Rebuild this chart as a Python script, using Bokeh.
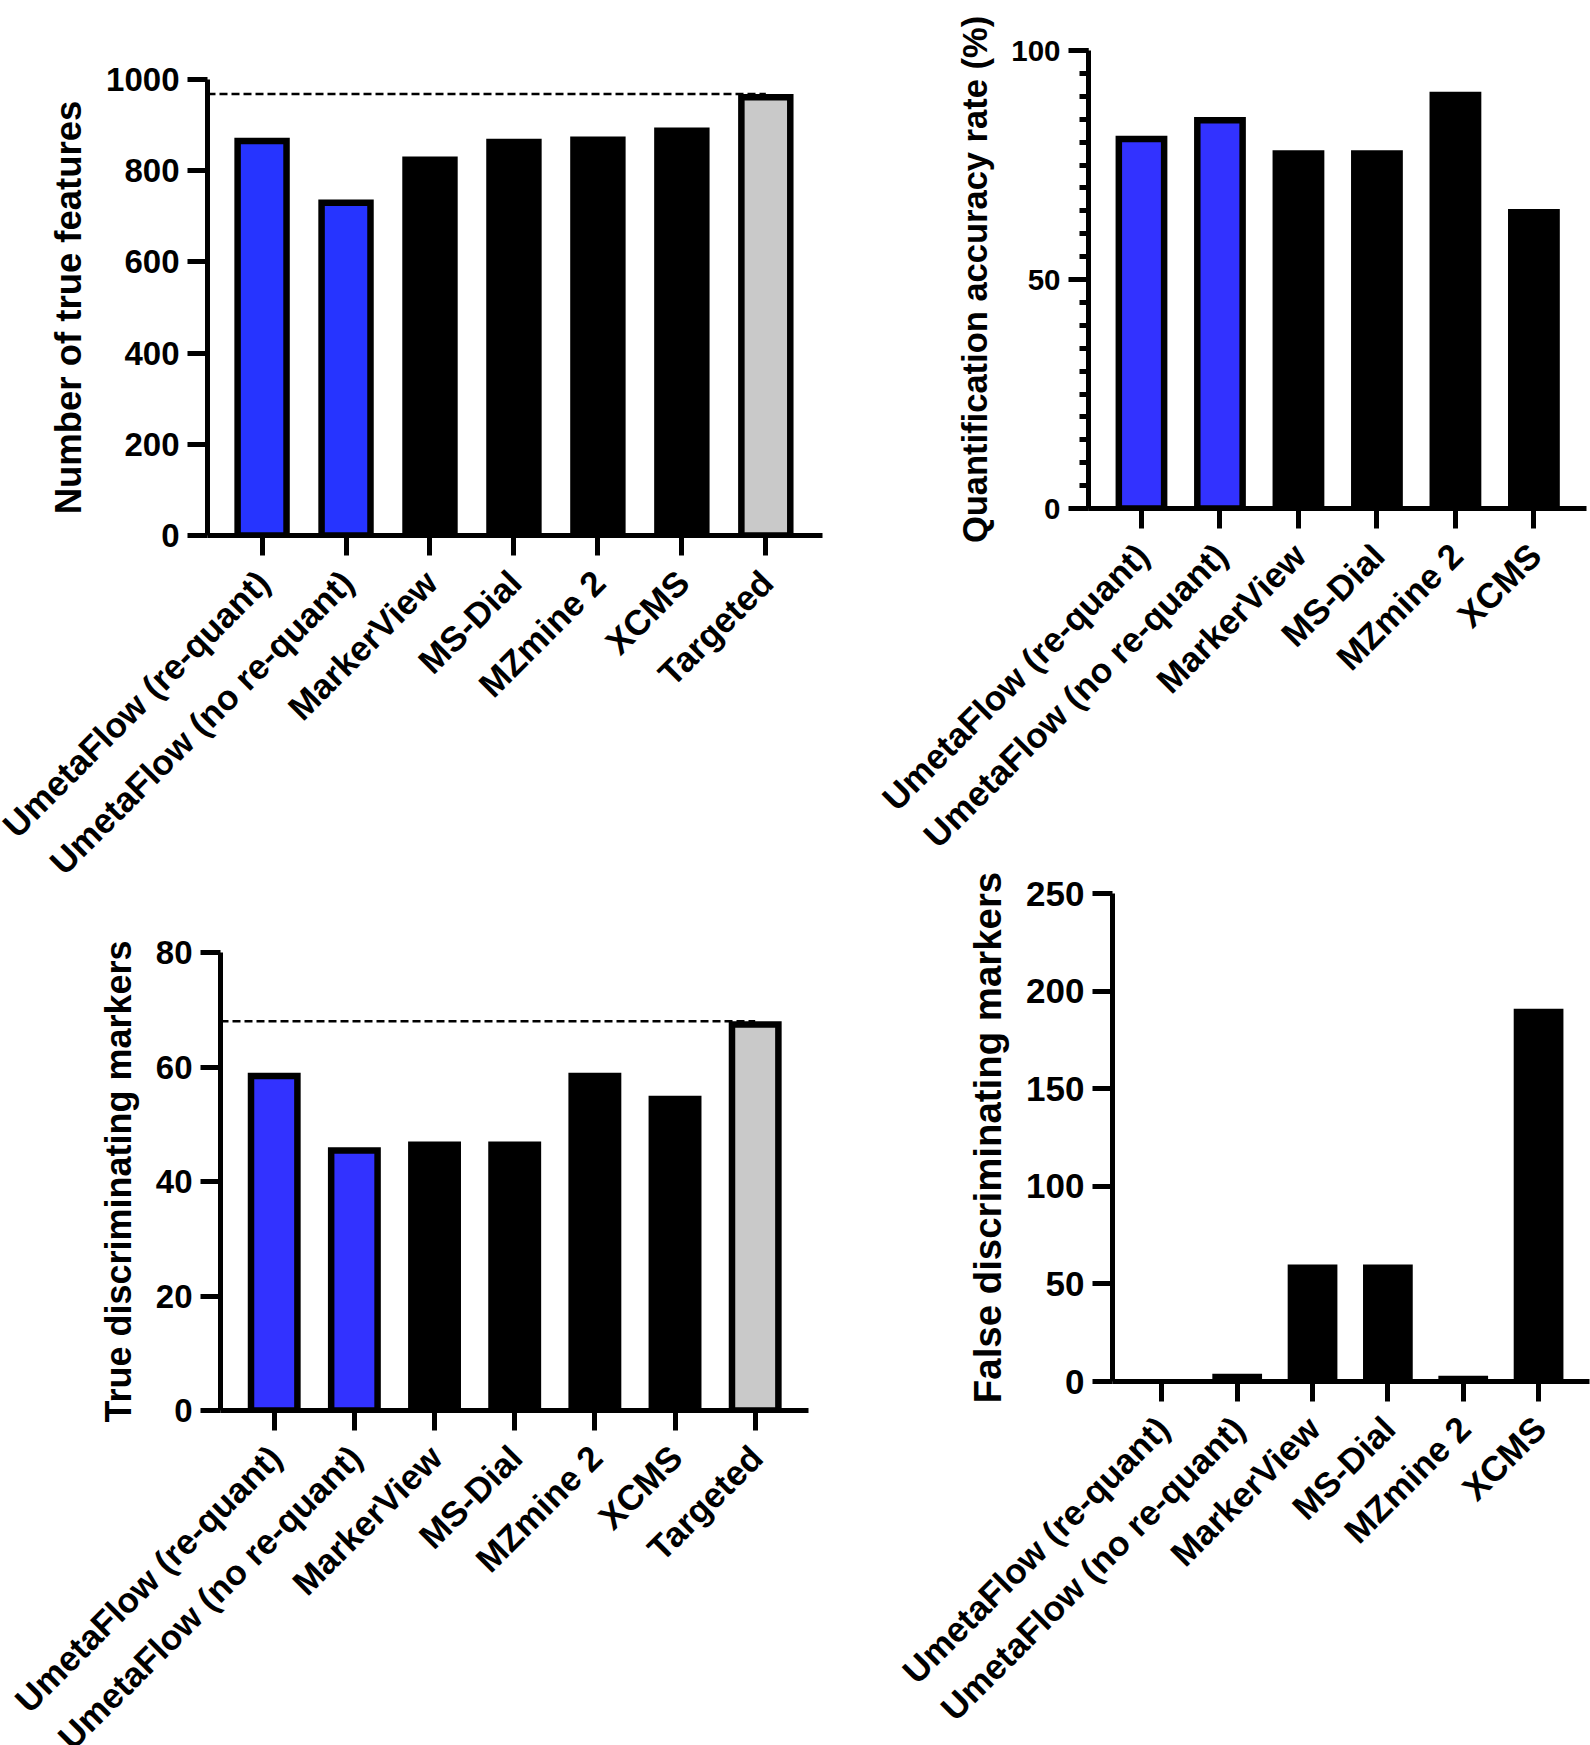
from bokeh.plotting import figure
from bokeh.layouts import row, column
from bokeh.models import Range1d, FixedTicker
from bokeh.core.properties import value
from bokeh.embed import file_html
from bokeh.resources import INLINE

# ---------------- data ----------------
tools_all = ["UmetaFlow (re-quant)", "UmetaFlow (no re-quant)", "MarkerView",
             "MS-Dial", "MZmine 2", "XCMS", "Targeted"]
tools_no_targeted = tools_all[:6]

true_features = [872, 737, 831, 870, 875, 895, 968]
quant_accuracy = [81.4, 85.5, 78.2, 78.2, 91.0, 65.4]
true_markers = [59, 46, 47, 47, 59, 55, 68]
false_markers = [0, 4, 60, 60, 3, 191]

y1_ticks = [0, 200, 400, 600, 800, 1000]
y2_ticks = [0, 50, 100]
y2_minor = [0, 5, 10, 15, 20, 25, 30, 35, 40, 45, 50, 55, 60, 65, 70, 75, 80, 85, 90, 95, 100]
y3_ticks = [0, 20, 40, 60, 80]
y4_ticks = [0, 50, 100, 150, 200, 250]

# ---------------- style ----------------
FONT = "Liberation Sans"
BLUE1 = "#2634ff"
BLUE2 = "#3232ff"
GREY = "#c9c9c9"
BLACK = "#000000"
BORDER = 6.5
CAT_FS = "35px"
CAT_ANGLE = 0.785398  # 45 degrees
CAT_DX = 1            # px right of tick for the label end
CAT_DY = 41           # px below the x axis for the label end


def make_panel(labels, values, colors, bordered, ymax, yticks, title,
               width, bl, br, bt, frame_h, axis_bb, label_h, tick_fs, title_fs,
               minor=None, ref_line=None, x_lo=-0.66, x_hi=0.67):
    n = len(labels)
    x0, x1 = x_lo, n - 1 + x_hi
    height = bt + frame_h + axis_bb
    p = figure(width=width, height=height, output_backend="svg",
               toolbar_location=None, x_range=Range1d(x0, x1),
               y_range=Range1d(0, ymax),
               min_border_left=bl, min_border_right=br,
               min_border_top=bt, min_border_bottom=axis_bb)
    if "frame_align" in p.properties():
        p.frame_align = False
    p.outline_line_color = None
    p.xgrid.visible = False
    p.ygrid.visible = False

    frame_w = width - bl - br
    px_x = frame_w / (x1 - x0)
    px_y = frame_h / ymax
    bar_w = 0.66

    xs = list(range(n))
    plain_x = [x for x, b in zip(xs, bordered) if not b]
    plain_v = [v for v, b in zip(values, bordered) if not b]
    plain_c = [c for c, b in zip(colors, bordered) if not b]
    if plain_x:
        p.vbar(x=plain_x, top=plain_v, bottom=0, width=bar_w,
               fill_color=plain_c, line_color=None)
    bx = [x for x, b in zip(xs, bordered) if b]
    bv = [v - (BORDER / 2) / px_y for v, b in zip(values, bordered) if b]
    bc = [c for c, b in zip(colors, bordered) if b]
    if bx:
        p.vbar(x=bx, top=bv, bottom=0, width=bar_w - BORDER / px_x,
               fill_color=bc, line_color=BLACK, line_width=BORDER,
               line_join="miter")

    if ref_line is not None:
        p.segment(x0=[x0], y0=[ref_line], x1=[n - 1], y1=[ref_line],
                  line_color=BLACK, line_width=2.5, line_dash="8 4")

    # y axis
    ya = p.yaxis[0]
    ya.ticker = FixedTicker(ticks=yticks, minor_ticks=minor if minor else [])
    ya.axis_line_width = 5
    ya.major_tick_line_width = 5
    ya.major_tick_out = 20
    ya.major_tick_in = 0
    if minor:
        ya.minor_tick_line_width = 5
        ya.minor_tick_out = 9
        ya.minor_tick_in = 0
    else:
        ya.minor_tick_line_color = None
    ya.major_label_text_font = FONT
    ya.major_label_text_font_style = "bold"
    ya.major_label_text_font_size = f"{tick_fs}px"
    ya.major_label_text_color = BLACK
    ya.major_label_standoff = 8
    ya.axis_label = title
    ya.axis_label_text_font = FONT
    ya.axis_label_text_font_style = "bold"
    ya.axis_label_text_font_size = f"{title_fs}px"
    ya.axis_label_text_color = BLACK
    ya.axis_label_standoff = 14

    # x axis: ticks only
    xa = p.xaxis[0]
    xa.ticker = FixedTicker(ticks=xs, minor_ticks=[])
    xa.major_label_overrides = {i: "" for i in xs}
    xa.major_label_text_font_size = "0px"
    xa.major_label_standoff = 0
    xa.axis_line_width = 5
    xa.major_tick_line_width = 5
    xa.major_tick_out = 20
    xa.major_tick_in = 0
    xa.minor_tick_line_color = None

    # strip below the chart carrying the rotated category names,
    # sharing the chart's horizontal data->pixel mapping
    lx0 = x0 - bl / px_x
    lx1 = x0 + (width - bl) / px_x
    q = figure(width=width, height=label_h, output_backend="svg",
               toolbar_location=None, x_range=Range1d(lx0, lx1),
               y_range=Range1d(-label_h, 0),
               min_border_left=0, min_border_right=0,
               min_border_top=0, min_border_bottom=0,
               x_axis_location=None, y_axis_location=None)
    if "frame_align" in q.properties():
        q.frame_align = False
    q.outline_line_color = None
    q.xgrid.visible = False
    q.ygrid.visible = False
    q.text(x=xs, y=[-(CAT_DY - axis_bb)] * n, text=labels,
           angle=CAT_ANGLE, text_align="right", text_baseline="middle",
           x_offset=CAT_DX, text_font=value(FONT), text_font_style="bold",
           text_font_size=value(CAT_FS), text_color=BLACK)
    return column(p, q)


c1 = [BLUE1, BLUE1, BLACK, BLACK, BLACK, BLACK, GREY]
b1 = [True, True, False, False, False, False, True]
p1 = make_panel(tools_all, true_features, c1, b1, 1000, y1_ticks,
                "Number of true features",
                870, 207, 48, 79, 456, 22, 343, 33, 36.5,
                ref_line=true_features[-1], x_lo=-0.65, x_hi=0.675)

c2 = [BLUE2, BLUE2, BLACK, BLACK, BLACK, BLACK]
b2 = [True, True, False, False, False, False]
p2 = make_panel(tools_no_targeted, quant_accuracy, c2, b2, 100, y2_ticks,
                "Quantification accuracy rate (%)",
                720, 218, 4, 50, 458, 36, 316, 29.5, 34.5, minor=y2_minor,
                x_lo=-0.675, x_hi=0.67)

c3 = [BLUE2, BLUE2, BLACK, BLACK, BLACK, BLACK, GREY]
b3 = [True, True, False, False, False, False, True]
p3 = make_panel(tools_all, true_markers, c3, b3, 80, y3_ticks,
                "True discriminating markers",
                870, 220, 62, 52, 458, 22, 313, 33, 36,
                ref_line=true_markers[-1], x_lo=-0.67, x_hi=0.665)

c4 = [BLACK] * 6
b4 = [False] * 6
p4 = make_panel(tools_no_targeted, false_markers, c4, b4, 250, y4_ticks,
                "False discriminating markers",
                720, 242, 1, 33, 488, 22, 342, 35, 38.4,
                x_lo=-0.655, x_hi=0.676)

layout = row(column(p1, p3), column(p2, p4))
open("out.html", "w").write(file_html(layout, INLINE))
